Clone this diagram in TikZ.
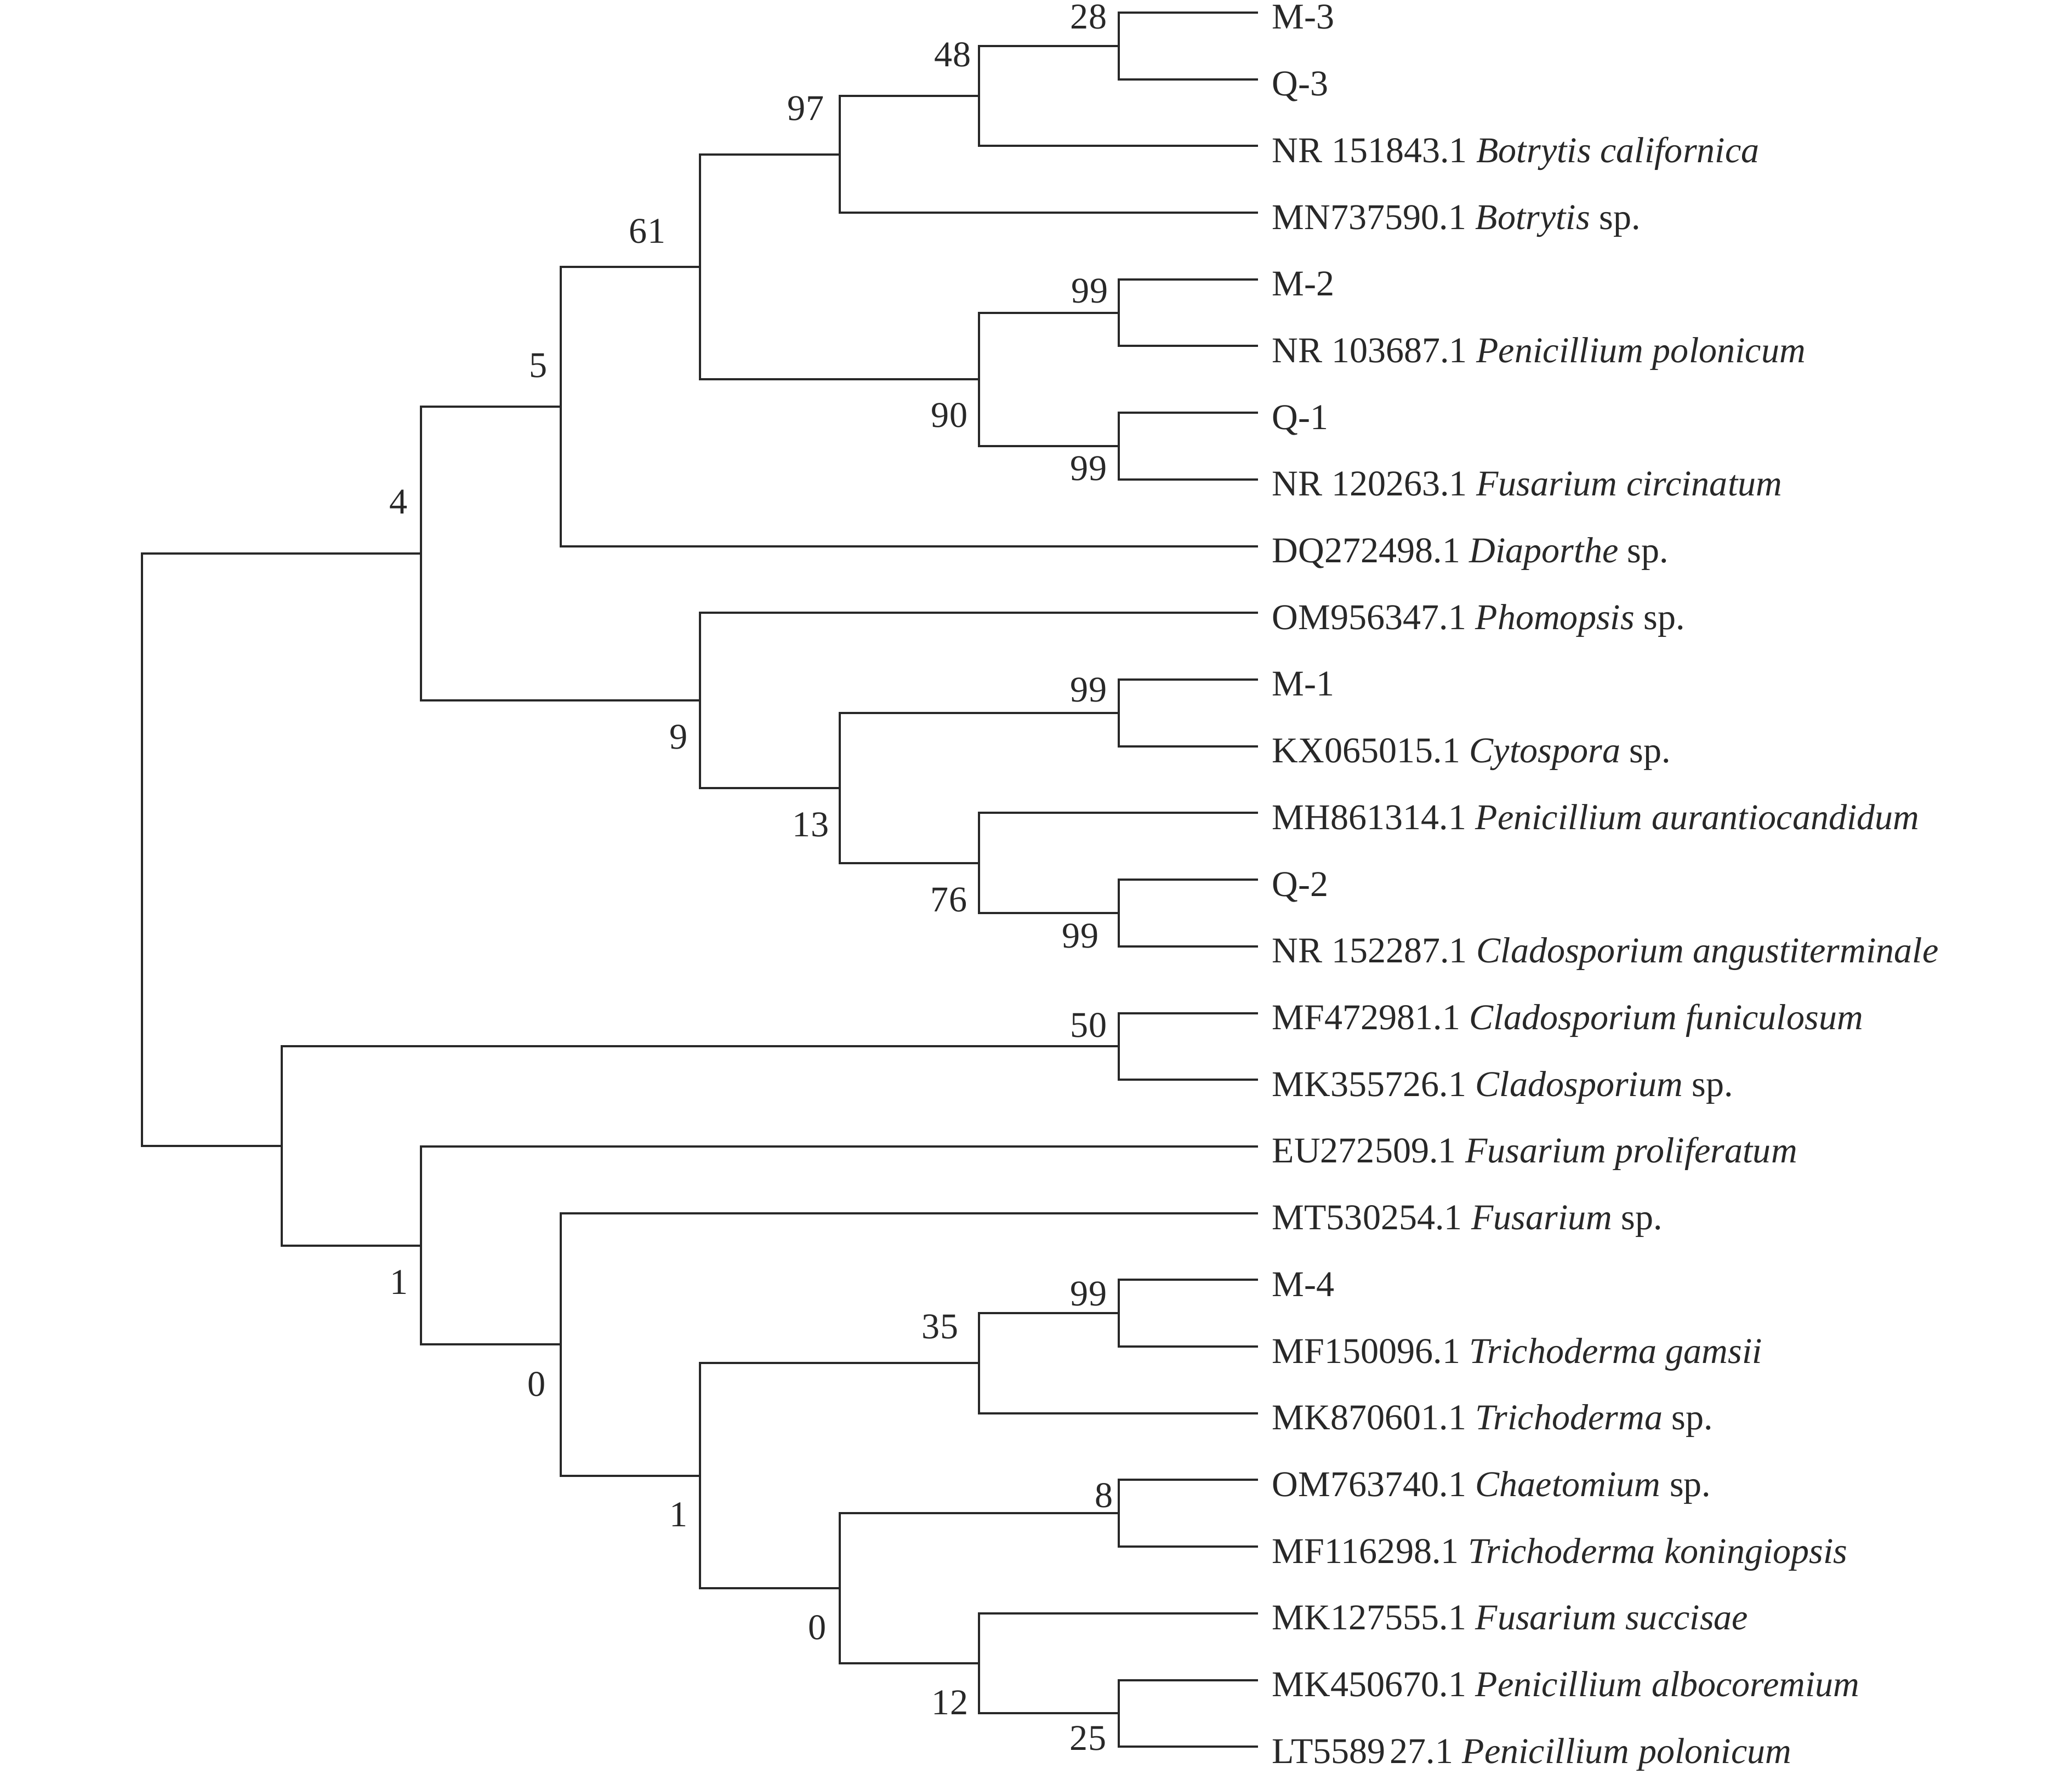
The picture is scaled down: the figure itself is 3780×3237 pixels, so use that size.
\documentclass[tikz,border=0pt]{standalone}
\usepackage{fontspec}
\setmainfont{Liberation Serif}
\usetikzlibrary{calc}
\definecolor{ink}{RGB}{40,40,40}
\begin{document}
\begin{tikzpicture}[x=0.01cm,y=-0.01cm,
  branch/.style={draw=ink,line width=0.04cm,line join=miter},
  leaflabel/.style={anchor=base west,inner sep=0pt,text=ink,font=\fontsize{18.8pt}{22pt}\selectfont},
  bootlabel/.style={anchor=center,inner sep=0pt,text=ink,font=\fontsize{18.8pt}{22pt}\selectfont}]
\useasboundingbox (0,0) rectangle (3780,3237);
% leaves
\foreach \i in {0,...,26} {\coordinate (L\i) at (2295,{23+121.7*\i});}
% internal nodes (x level, y index)
\coordinate (nI) at (2040.5,{23+121.7*0.5});
\coordinate (nH) at (1786,{23+121.7*1.25});
\coordinate (nF) at (1531.5,{23+121.7*2.125});
\coordinate (nJ) at (2040.5,{23+121.7*4.5});
\coordinate (nK) at (2040.5,{23+121.7*6.5});
\coordinate (nG) at (1786,{23+121.7*5.5});
\coordinate (nE) at (1277,{23+121.7*3.8125});
\coordinate (nC) at (1022.5,{23+121.7*5.90625});
\coordinate (nM) at (2040.5,{23+121.7*10.5});
\coordinate (nO) at (2040.5,{23+121.7*13.5});
\coordinate (nN) at (1786,{23+121.7*12.75});
\coordinate (nL) at (1531.5,{23+121.7*11.625});
\coordinate (nD) at (1277,{23+121.7*10.3125});
\coordinate (nA) at (768,{23+121.7*8.109375});
\coordinate (nP) at (2040.5,{23+121.7*15.5});
\coordinate (nV) at (2040.5,{23+121.7*19.5});
\coordinate (nT) at (1786,{23+121.7*20.25});
\coordinate (nW) at (2040.5,{23+121.7*22.5});
\coordinate (nY) at (2040.5,{23+121.7*25.5});
\coordinate (nX) at (1786,{23+121.7*24.75});
\coordinate (nU) at (1531.5,{23+121.7*23.625});
\coordinate (nS) at (1277,{23+121.7*21.9375});
\coordinate (nR) at (1022.5,{23+121.7*19.96875});
\coordinate (nQ) at (768,{23+121.7*18.484375});
\coordinate (nB) at (513.5,{23+121.7*16.9921875});
\coordinate (nRoot) at (259,{23+121.7*12.55078125});
% branches: \draw (child1) -- (child1 -| node) -- (child2 -| node) -- (child2)
\draw[branch] (L0) -- (L0 -| nI) -- (L1 -| nI) -- (L1);
\draw[branch] (nI) -- (nI -| nH) -- (L2 -| nH) -- (L2);
\draw[branch] (nH) -- (nH -| nF) -- (L3 -| nF) -- (L3);
\draw[branch] (L4) -- (L4 -| nJ) -- (L5 -| nJ) -- (L5);
\draw[branch] (L6) -- (L6 -| nK) -- (L7 -| nK) -- (L7);
\draw[branch] (nJ) -- (nJ -| nG) -- (nK -| nG) -- (nK);
\draw[branch] (nF) -- (nF -| nE) -- (nG -| nE) -- (nG);
\draw[branch] (nE) -- (nE -| nC) -- (L8 -| nC) -- (L8);
\draw[branch] (L10) -- (L10 -| nM) -- (L11 -| nM) -- (L11);
\draw[branch] (L13) -- (L13 -| nO) -- (L14 -| nO) -- (L14);
\draw[branch] (L12) -- (L12 -| nN) -- (nO -| nN) -- (nO);
\draw[branch] (nM) -- (nM -| nL) -- (nN -| nL) -- (nN);
\draw[branch] (L9) -- (L9 -| nD) -- (nL -| nD) -- (nL);
\draw[branch] (nC) -- (nC -| nA) -- (nD -| nA) -- (nD);
\draw[branch] (L15) -- (L15 -| nP) -- (L16 -| nP) -- (L16);
\draw[branch] (L19) -- (L19 -| nV) -- (L20 -| nV) -- (L20);
\draw[branch] (nV) -- (nV -| nT) -- (L21 -| nT) -- (L21);
\draw[branch] (L22) -- (L22 -| nW) -- (L23 -| nW) -- (L23);
\draw[branch] (L25) -- (L25 -| nY) -- (L26 -| nY) -- (L26);
\draw[branch] (L24) -- (L24 -| nX) -- (nY -| nX) -- (nY);
\draw[branch] (nW) -- (nW -| nU) -- (nX -| nU) -- (nX);
\draw[branch] (nT) -- (nT -| nS) -- (nU -| nS) -- (nU);
\draw[branch] (L18) -- (L18 -| nR) -- (nS -| nR) -- (nS);
\draw[branch] (L17) -- (L17 -| nQ) -- (nR -| nQ) -- (nR);
\draw[branch] (nP) -- (nP -| nB) -- (nQ -| nB) -- (nQ);
\draw[branch] (nA) -- (nA -| nRoot) -- (nB -| nRoot) -- (nB);
% leaf labels
\node[leaflabel] (t0) at ($(L0)+(25,30)$) {M-3};
\node[leaflabel] (t1) at ($(L1)+(25,30)$) {Q-3};
\node[leaflabel] (t2) at ($(L2)+(25,30)$) {NR 151843.1 \textit{Botrytis californica}};
\node[leaflabel] (t3) at ($(L3)+(25,30)$) {MN737590.1 \textit{Botrytis} sp.};
\node[leaflabel] (t4) at ($(L4)+(25,30)$) {M-2};
\node[leaflabel] (t5) at ($(L5)+(25,30)$) {NR 103687.1 \textit{Penicillium polonicum}};
\node[leaflabel] (t6) at ($(L6)+(25,30)$) {Q-1};
\node[leaflabel] (t7) at ($(L7)+(25,30)$) {NR 120263.1 \textit{Fusarium circinatum}};
\node[leaflabel] (t8) at ($(L8)+(25,30)$) {DQ272498.1 \textit{Diaporthe} sp.};
\node[leaflabel] (t9) at ($(L9)+(25,30)$) {OM956347.1 \textit{Phomopsis} sp.};
\node[leaflabel] (t10) at ($(L10)+(25,30)$) {M-1};
\node[leaflabel] (t11) at ($(L11)+(25,30)$) {KX065015.1 \textit{Cytospora} sp.};
\node[leaflabel] (t12) at ($(L12)+(25,30)$) {MH861314.1 \textit{Penicillium aurantiocandidum}};
\node[leaflabel] (t13) at ($(L13)+(25,30)$) {Q-2};
\node[leaflabel] (t14) at ($(L14)+(25,30)$) {NR 152287.1 \textit{Cladosporium angustiterminale}};
\node[leaflabel] (t15) at ($(L15)+(25,30)$) {MF472981.1 \textit{Cladosporium funiculosum}};
\node[leaflabel] (t16) at ($(L16)+(25,30)$) {MK355726.1 \textit{Cladosporium} sp.};
\node[leaflabel] (t17) at ($(L17)+(25,30)$) {EU272509.1 \textit{Fusarium proliferatum}};
\node[leaflabel] (t18) at ($(L18)+(25,30)$) {MT530254.1 \textit{Fusarium} sp.};
\node[leaflabel] (t19) at ($(L19)+(25,30)$) {M-4};
\node[leaflabel] (t20) at ($(L20)+(25,30)$) {MF150096.1 \textit{Trichoderma gamsii}};
\node[leaflabel] (t21) at ($(L21)+(25,30)$) {MK870601.1 \textit{Trichoderma} sp.};
\node[leaflabel] (t22) at ($(L22)+(25,30)$) {OM763740.1 \textit{Chaetomium} sp.};
\node[leaflabel] (t23) at ($(L23)+(25,30)$) {MF116298.1 \textit{Trichoderma koningiopsis}};
\node[leaflabel] (t24) at ($(L24)+(25,30)$) {MK127555.1 \textit{Fusarium succisae}};
\node[leaflabel] (t25) at ($(L25)+(25,30)$) {MK450670.1 \textit{Penicillium albocoremium}};
\node[leaflabel] (t26) at ($(L26)+(25,30)$) {LT5589\kern0.12em27.1 \textit{Penicillium polonicum}};
% bootstrap labels
\node[bootlabel] (bI) at (1986,30.5) {28};
\node[bootlabel] (bH) at (1738,100) {48};
\node[bootlabel] (bF) at (1470,198) {97};
\node[bootlabel] (bE) at (1181,422) {61};
\node[bootlabel] (bC) at (982,667) {5};
\node[bootlabel] (bA) at (727,916) {4};
\node[bootlabel] (bJ) at (1988,531) {99};
\node[bootlabel] (bG) at (1732,758) {90};
\node[bootlabel] (bK) at (1986,855) {99};
\node[bootlabel] (bD) at (1238,1345) {9};
\node[bootlabel] (bM) at (1986,1259) {99};
\node[bootlabel] (bL) at (1479,1505) {13};
\node[bootlabel] (bN) at (1731,1642) {76};
\node[bootlabel] (bO) at (1971,1708) {99};
\node[bootlabel] (bP) at (1986,1871) {50};
\node[bootlabel] (bQ) at (728,2340) {1};
\node[bootlabel] (bR) at (979,2526) {0};
\node[bootlabel] (bS) at (1238,2764) {1};
\node[bootlabel] (bT) at (1715,2421) {35};
\node[bootlabel] (bV) at (1986,2361) {99};
\node[bootlabel] (bW) at (2014,2729) {8};
\node[bootlabel] (bU) at (1491,2970) {0};
\node[bootlabel] (bX) at (1733,3107) {12};
\node[bootlabel] (bY) at (1985,3172) {25};
\end{tikzpicture}
\end{document}
